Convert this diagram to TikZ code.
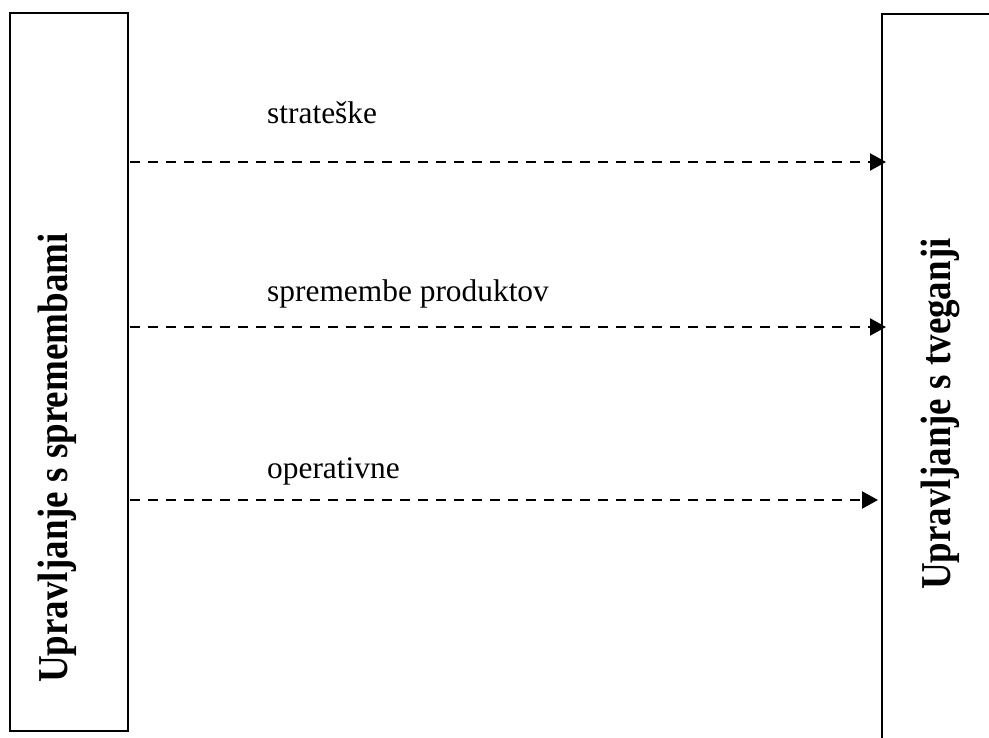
\documentclass[tikz,border=0pt]{standalone}
\usepackage{fontspec}
\setmainfont{Liberation Serif}
\usetikzlibrary{arrows.meta}
\begin{document}
\begin{tikzpicture}[x=1pt,y=-1pt,
  frame/.style={draw, line width=1.6pt, inner sep=0pt, outer sep=0pt},
  flow/.style={line width=2.2pt, dash pattern=on 10pt off 8pt,
    -{Triangle[length=16pt,width=17pt]}},
  side/.style={rotate=90, anchor=base west, inner sep=0pt,
    font=\fontsize{37}{44}\selectfont\bfseries},
  lab/.style={anchor=base west, inner sep=0pt,
    font=\fontsize{31.4}{36}\selectfont}]
\useasboundingbox (0,0) rectangle (989,738);
\clip (0,0) rectangle (989,738);

% the two process blocks (the right one runs past the page edge)
\node[frame, minimum width=118pt, minimum height=718pt] (left) at (69,372) {};
\node[frame, minimum width=128pt, minimum height=746pt] (right) at (946,387) {};

% vertical titles
\node[side] (ltitle) at (67,683) {\scalebox{1}[1.15]{Upravljanje s spremembami}};
\node[side] (rtitle) at (950,590) {\scalebox{1}[1.15]{Upravljanje s tveganji}};

% levels of change
\coordinate (y1) at (0,162);
\coordinate (y2) at (0,327);
\coordinate (y3) at (0,500);
\draw[flow, shorten <=2pt, shorten >=-4pt] (left.east |- y1) -- (right.west |- y1);
\draw[flow, shorten <=2pt, shorten >=-4pt] (left.east |- y2) -- (right.west |- y2);
\draw[flow, shorten <=2pt, shorten >=4pt] (left.east |- y3) -- (right.west |- y3);

\node[lab] (l1) at (267,124) {strateške};
\node[lab] (l2) at (267,302) {spremembe produktov};
\node[lab] (l3) at (267,478) {operativne};
\end{tikzpicture}
\end{document}
